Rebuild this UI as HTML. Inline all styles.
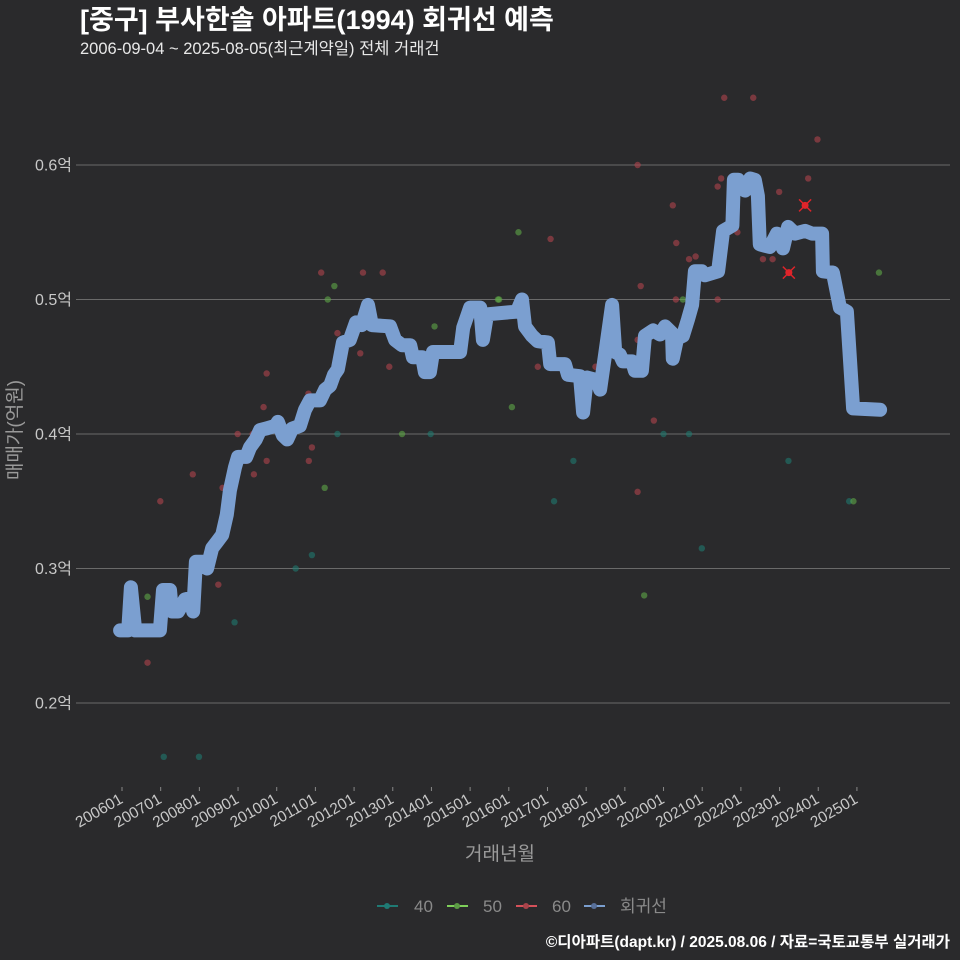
<!DOCTYPE html>
<html><head><meta charset="utf-8"><style>
body{margin:0;background:#2a2a2c;}
svg{display:block;font-family:"Liberation Sans","Noto Sans CJK KR",sans-serif;}
</style></head><body>
<svg id="c" width="960" height="960" viewBox="0 0 960 960">
<rect width="960" height="960" fill="#2a2a2c"/>
<text x="80" y="29" font-size="27" font-weight="bold" fill="#ffffff">[중구] 부사한솔 아파트(1994) 회귀선 예측</text>
<text x="80" y="54" font-size="16.5" fill="#e8e8e8">2006-09-04 ~ 2025-08-05(최근계약일) 전체 거래건</text>
<g id="grid"></g>
<g id="yticks"></g>
<g id="xticks"></g>
<g id="pts"></g>
<g id="line"></g>
<g id="marks"></g>
<text x="21" y="430" font-size="19" fill="#9a9a9a" text-anchor="middle" transform="rotate(-90 21 430)">매매가(억원)</text>
<text x="500" y="860" font-size="19" fill="#9a9a9a" text-anchor="middle">거래년월</text>
<g>
<g><line x1="377" y1="906" x2="398" y2="906" stroke="#1f7a74" stroke-width="2"/><circle cx="387" cy="906" r="3" fill="#1f7a74"/><text x="414" y="912" font-size="17" fill="#8a8a8a">40</text></g>
<g><line x1="447" y1="906" x2="468" y2="906" stroke="#7ecf5a" stroke-width="2"/><circle cx="457" cy="906" r="3" fill="#5b9a44"/><text x="483" y="912" font-size="17" fill="#8a8a8a">50</text></g>
<g><line x1="516" y1="906" x2="537" y2="906" stroke="#d5515a" stroke-width="2"/><circle cx="526" cy="906" r="3" fill="#a8434a"/><text x="552" y="912" font-size="17" fill="#8a8a8a">60</text></g>
<g><line x1="584" y1="906" x2="605" y2="906" stroke="#7b9fd0" stroke-width="2"/><circle cx="594" cy="906" r="3" fill="#58709a"/><text x="620" y="912" font-size="17" fill="#8a8a8a">회귀선</text></g>
</g>
<text x="950" y="947" font-size="15.5" font-weight="bold" fill="#ffffff" text-anchor="end">©디아파트(dapt.kr) / 2025.08.06 / 자료=국토교통부 실거래가</text>
</svg>
<script>
const yTicks=[0.2,0.3,0.4,0.5,0.6];
const xTickLabels=["200601","200701","200801","200901","201001","201101","201201","201301","201401","201501","201601","201701","201801","201901","202001","202101","202201","202301","202401","202501"];
const lineYears=[2005.95,2006.16,2006.23,2006.34,2006.98,2007.06,2007.24,2007.29,2007.45,2007.63,2007.76,2007.84,2007.91,2008.09,2008.20,2008.33,2008.46,2008.59,2008.71,2008.79,2008.92,2009.00,2009.21,2009.31,2009.46,2009.57,2009.72,2009.96,2010.03,2010.16,2010.27,2010.40,2010.60,2010.73,2010.86,2011.12,2011.25,2011.38,2011.48,2011.58,2011.71,2011.89,2012.05,2012.20,2012.36,2012.46,2012.93,2013.06,2013.24,2013.45,2013.52,2013.76,2013.83,2013.96,2014.04,2014.74,2014.82,2015.00,2015.26,2015.33,2015.44,2016.21,2016.34,2016.42,2016.60,2016.75,2017.01,2017.07,2017.45,2017.53,2017.84,2017.92,2018.02,2018.28,2018.36,2018.49,2018.67,2018.75,2018.87,2018.95,2019.19,2019.26,2019.44,2019.52,2019.73,2019.91,2020.04,2020.22,2020.24,2020.35,2020.50,2020.63,2020.74,2020.81,2020.99,2021.07,2021.41,2021.54,2021.78,2021.82,2021.93,2022.11,2022.24,2022.36,2022.44,2022.49,2022.75,2022.93,2023.09,2023.22,2023.40,2023.66,2023.84,2024.10,2024.12,2024.38,2024.56,2024.74,2024.90,2025.60];
const lineValues=[0.254,0.254,0.286,0.254,0.254,0.284,0.284,0.268,0.268,0.277,0.278,0.268,0.305,0.305,0.300,0.315,0.320,0.325,0.340,0.358,0.375,0.383,0.383,0.390,0.396,0.403,0.404,0.406,0.409,0.399,0.396,0.404,0.406,0.418,0.425,0.425,0.433,0.436,0.444,0.448,0.468,0.470,0.483,0.481,0.496,0.481,0.480,0.470,0.466,0.466,0.457,0.457,0.446,0.446,0.461,0.461,0.479,0.494,0.494,0.470,0.489,0.491,0.500,0.480,0.473,0.469,0.468,0.452,0.452,0.444,0.443,0.416,0.442,0.440,0.433,0.459,0.496,0.461,0.459,0.454,0.454,0.447,0.447,0.473,0.477,0.474,0.480,0.475,0.456,0.471,0.473,0.485,0.496,0.521,0.521,0.518,0.521,0.551,0.555,0.589,0.589,0.581,0.590,0.589,0.577,0.541,0.539,0.549,0.538,0.554,0.549,0.551,0.549,0.549,0.521,0.520,0.494,0.491,0.419,0.418];
const pts40Years=[2011.57,2013.98,2010.91,2010.49,2008.91,2007.08,2007.99,2020.00,2020.66,2017.67,2023.23,2017.17,2024.80,2020.99];
const pts40Values=[0.400,0.400,0.310,0.300,0.260,0.160,0.160,0.400,0.400,0.380,0.380,0.350,0.350,0.315];
const pts50Years=[2011.49,2011.32,2014.08,2013.24,2011.24,2006.66,2015.72,2016.25,2025.57,2015.75,2020.50,2016.08,2024.91,2019.50];
const pts50Values=[0.510,0.500,0.480,0.400,0.360,0.279,0.500,0.550,0.520,0.500,0.500,0.420,0.350,0.280];
const pts60Years=[2011.15,2012.23,2012.74,2011.57,2012.16,2012.91,2009.74,2010.82,2009.66,2008.99,2009.38,2010.91,2009.74,2010.83,2009.22,2009.41,2007.83,2008.60,2006.99,2008.49,2006.66,2021.57,2022.32,2023.98,2019.33,2021.49,2021.40,2023.74,2022.99,2020.24,2021.91,2017.08,2020.33,2020.66,2020.83,2022.57,2022.82,2019.41,2020.32,2021.40,2019.33,2016.75,2018.24,2019.75,2019.33];
const pts60Values=[0.520,0.520,0.520,0.475,0.460,0.450,0.445,0.430,0.420,0.400,0.400,0.390,0.380,0.380,0.380,0.370,0.370,0.360,0.350,0.288,0.230,0.650,0.650,0.619,0.600,0.590,0.584,0.590,0.580,0.570,0.550,0.545,0.542,0.530,0.532,0.530,0.530,0.510,0.500,0.500,0.470,0.450,0.450,0.410,0.357];
const markYears=[2023.66,2023.24];
const markValues=[0.570,0.520];

const NS="http://www.w3.org/2000/svg";
const xS=y=>122+(y-2006)*38.68;
const yS=v=>165+(0.6-v)*1345;
function mk(tag,attrs,parent){const e=document.createElementNS(NS,tag);for(const k in attrs)e.setAttribute(k,attrs[k]);parent.appendChild(e);return e;}
const grid=document.getElementById('grid'),yt=document.getElementById('yticks'),xt=document.getElementById('xticks');
yTicks.forEach(v=>{
  const l=mk('line',{x1:76,x2:950,y1:yS(v),y2:yS(v),stroke:'#6a6a6a','stroke-width':1},grid);
  
  
  const t=mk('text',{x:72,y:yS(v)+5.5,'font-size':16,fill:'#c8c8c8','text-anchor':'end'},yt);
  t.textContent=v.toFixed(1)+'억';
  
  
});
xTickLabels.forEach((s,i)=>{
  const x=xS(2006+i);
  const l=mk('line',{x1:x,x2:x,y1:787,y2:791,stroke:'#888','stroke-width':1},xt);
  
  
  const t=mk('text',{x:x+2,y:802,'font-size':15.5,fill:'#c8c8c8','text-anchor':'end',transform:`rotate(-30 ${x+2} 802)`},xt);
  t.textContent=s;
  
  
});
const pg=document.getElementById('pts');
function drawPts(ys,vs,col,name){ys.forEach((y,i)=>{
  const c=mk('circle',{cx:xS(y),cy:yS(vs[i]),r:3.2,fill:col,'fill-opacity':0.6},pg);
  
  
});}
drawPts(pts40Years,pts40Values,'#1f7a70','point-40');
drawPts(pts50Years,pts50Values,'#5fa848','point-50');
drawPts(pts60Years,pts60Values,'#b0444c','point-60');
const d=lineYears.map((y,i)=>(i?'L':'M')+xS(y).toFixed(1)+' '+yS(lineValues[i]).toFixed(1)).join(' ');
const p=mk('path',{d:d,fill:'none',stroke:'#7b9fd0','stroke-width':14,'stroke-linejoin':'round','stroke-linecap':'round'},document.getElementById('line'));


const mg=document.getElementById('marks');
markYears.forEach((y,i)=>{
  const cx=xS(y),cy=yS(markValues[i]);
  const g=mk('g',{},mg);
  
  
  mk('line',{x1:cx-6,y1:cy-6,x2:cx+6,y2:cy+6,stroke:'#e0242a','stroke-width':1.5},g);
  mk('line',{x1:cx-6,y1:cy+6,x2:cx+6,y2:cy-6,stroke:'#e0242a','stroke-width':1.5},g);
  mk('circle',{cx:cx,cy:cy,r:3.5,fill:'#e0242a'},g);
});
</script>
</body></html>
